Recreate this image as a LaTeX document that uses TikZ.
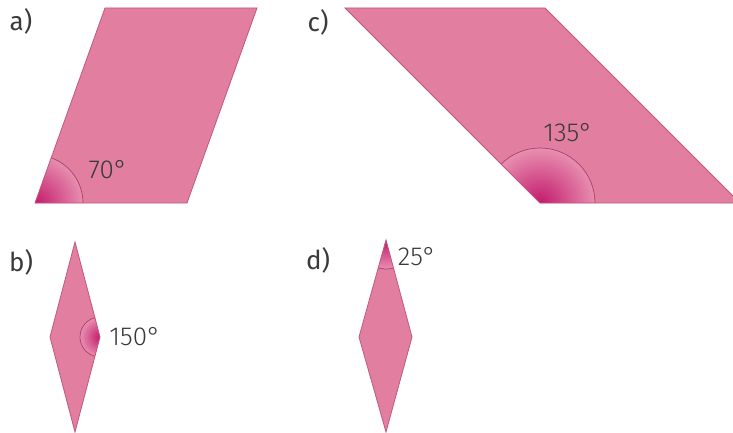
\documentclass[tikz,border=0pt]{standalone}
\usepackage{fontspec}
\setmainfont{Fira Sans Light}
\newfontfamily\labelfont{Fira Sans}
\usetikzlibrary{calc}
\definecolor{shapefill}{HTML}{E27FA0}
\definecolor{shapeline}{HTML}{C25680}
\definecolor{markdark}{HTML}{C21A6C}
\definecolor{marklight}{HTML}{E88FB0}
\definecolor{arcline}{HTML}{A8406A}
\definecolor{txt}{HTML}{3A3A3A}
\newcommand\angmark[4]{% vertex, start, end, radius
  \begin{scope}
    \clip (#1) -- ++(#2:#4) arc[start angle=#2,end angle=#3,radius=#4] -- cycle;
    \shade[inner color=markdark, outer color=marklight] (#1) circle[radius=#4];
  \end{scope}
  \draw[arcline, line width=0.7pt] ($(#1)+(#2:#4)$) arc[start angle=#2,end angle=#3,radius=#4];
}
\begin{document}
\begin{tikzpicture}[x=1pt,y=1pt,
  outl/.style={draw=shapeline, line width=0.8pt, line join=miter},
  lbl/.style={text=txt, font=\labelfont\fontsize{26}{26}\selectfont, inner sep=0pt},
  ang/.style={text=txt, font=\fontsize{26}{26}\selectfont, inner sep=0pt}]
\useasboundingbox (0,0) rectangle (733,432);
\begin{scope}
\clip (0,0) rectangle (733,432);
% a
\coordinate (a1) at (35,229);
\coordinate (a2) at (187,229);
\coordinate (a3) at (257,424);
\coordinate (a4) at (105,424);
\fill[shapefill] (a1) -- (a2) -- (a3) -- (a4) -- cycle;
\angmark{a1}{0}{70.25}{48}
\draw[outl] (a1) -- (a2) -- (a3) -- (a4) -- cycle;
% c
\coordinate (c1) at (540,229);
\coordinate (c2) at (740,229);
\coordinate (c3) at (545,424);
\coordinate (c4) at (345,424);
\fill[shapefill] (c1) -- (c2) -- (c3) -- (c4) -- cycle;
\angmark{c1}{0}{135}{55}
\draw[outl] (c1) -- (c2) -- (c3) -- (c4) -- cycle;
% b
\coordinate (b1) at (75,190);
\coordinate (b2) at (50,95);
\coordinate (b3) at (75,0);
\coordinate (b4) at (100,95);
\fill[shapefill] (b1) -- (b2) -- (b3) -- (b4) -- cycle;
\angmark{b4}{104.74}{255.26}{20}
\draw[outl] (b1) -- (b2) -- (b3) -- (b4) -- cycle;
% d
\coordinate (d1) at (386,192);
\coordinate (d2) at (359,95);
\coordinate (d3) at (386,0);
\coordinate (d4) at (412,95);
\fill[shapefill] (d1) -- (d2) -- (d3) -- (d4) -- cycle;
\angmark{d1}{254.45}{285}{29}
\draw[outl] (d1) -- (d2) -- (d3) -- (d4) -- cycle;
\end{scope}
% labels
\node[lbl] (la) at (21,411) {a)};
\node[lbl] (lc) at (318,410) {c)};
\node[lbl] (lb) at (21,170) {b)};
\node[lbl] (ld) at (318,172) {d)};
\node[ang] (t70) at (108,262) {70°};
\node[ang] (t135) at (568,299) {135°};
\node[ang] (t150) at (135,95) {150°};
\node[ang] (t25) at (417,175) {25°};
\end{tikzpicture}
\end{document}
